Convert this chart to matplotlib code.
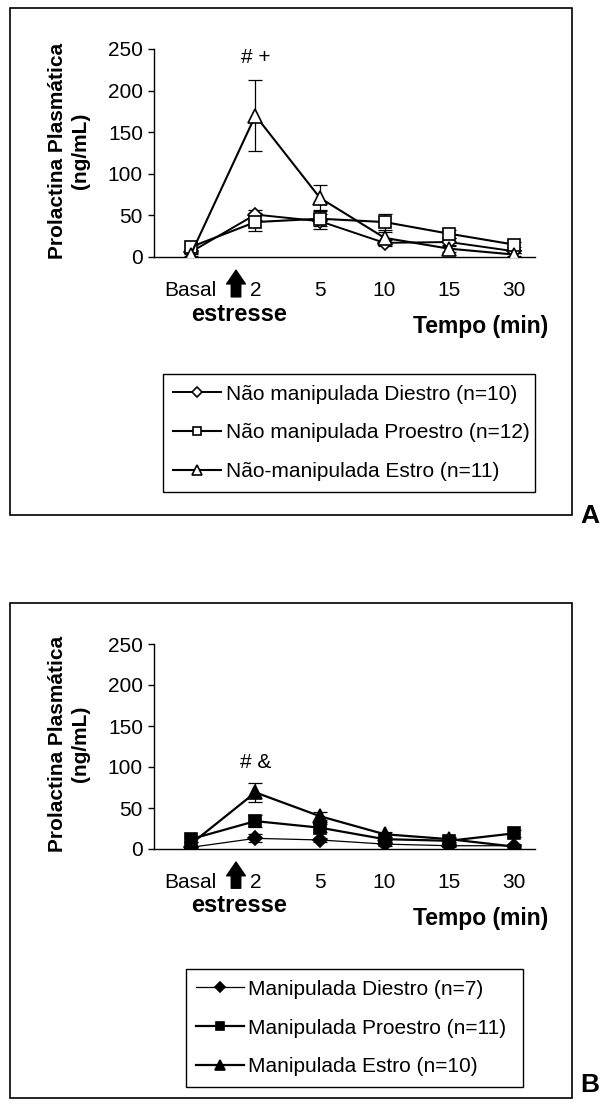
import numpy as np
import matplotlib
matplotlib.use("Agg")
import matplotlib.pyplot as plt
from matplotlib.patches import Rectangle

plt.rcParams['font.family'] = ['Liberation Sans', 'DejaVu Sans']

W, H = 600, 1106

# categorias do eixo x
tempos = ["Basal", "2", "5", "10", "15", "30"]

# painel A - não manipuladas
a_diestro = [6, 51, 43, 17, 18, 7]
a_diestro_err = [2, 6, 9, 4, 5, 2]
a_proestro = [12, 42, 46, 42, 28, 15]
a_proestro_err = [3, 11, 9, 10, 5, 3]
a_estro = [3, 170, 71, 23, 10, 3]
a_estro_err = [2, 43, 15, 7, 4, 2]

# painel B - manipuladas
b_diestro = [2, 13, 11, 6, 4, 4]
b_diestro_err = [1, 5, 3, 2, 2, 2]
b_proestro = [12, 34, 26, 12, 10, 19]
b_proestro_err = [3, 7, 5, 3, 3, 4]
b_estro = [6, 69, 40, 18, 12, 3]
b_estro_err = [2, 12, 5, 3, 3, 2]

labels_a = ["Não manipulada Diestro (n=10)",
            "Não manipulada Proestro (n=12)",
            "Não-manipulada Estro (n=11)"]
labels_b = ["Manipulada Diestro (n=7)",
            "Manipulada Proestro (n=11)",
            "Manipulada Estro (n=10)"]

fig = plt.figure(figsize=(W / 100, H / 100), dpi=100)


def box(x0, y0, x1, y1, lw=1.2):
    # retangulo em pixels (origem em cima a esquerda)
    r = Rectangle((x0 / W, 1 - y1 / H), (x1 - x0) / W, (y1 - y0) / H,
                  transform=fig.transFigure, fill=False, ec='black', lw=lw)
    fig.patches.append(r)


def panel(top, series, labels, filled, mark, leg_box, letter, letter_y):
    y250, y0 = top
    ax = fig.add_axes([154 / W, 1 - y0 / H, (535 - 154) / W, (y0 - y250) / H])
    x = np.arange(len(tempos))
    markers = ['D', 's', '^']
    msizes = [7, 8.5, 9.5]
    lws = [1.4, 1.5, 1.5] if not filled else [0.9, 1.6, 1.6]
    handles = []
    for (vals, err), m, ms, lw in zip(series, markers, msizes, lws):
        fc = 'black' if filled else 'white'
        ax.errorbar(x, vals, yerr=err, fmt='none', ecolor='black',
                    elinewidth=0.9, capsize=5, capthick=0.9, zorder=2)
        h, = ax.plot(x, vals, color='black', lw=lw, marker=m, ms=ms,
                     mfc=fc, mec='black', mew=1.2, zorder=3)
        handles.append(h)
    ax.set_xlim(-0.57, 5.33)
    ax.set_ylim(0, 250)
    ax.set_yticks([0, 50, 100, 150, 200, 250])
    ax.set_xticks(x)
    ax.set_xticklabels(tempos)
    ax.tick_params(axis='x', length=0, pad=17, labelsize=15)
    ax.tick_params(axis='y', direction='out', length=4, width=1, pad=4, labelsize=15)
    for s in ['top', 'right']:
        ax.spines[s].set_visible(False)
    ax.spines['left'].set_linewidth(1)
    ax.spines['bottom'].set_linewidth(1)
    ax.patch.set_alpha(0)

    ax.text(1, mark[1], mark[0], ha='center', va='center', fontsize=15)

    # seta do estresse
    ax.annotate('', xy=(0.70, -0.05), xytext=(0.70, -0.205),
                xycoords=ax.get_xaxis_transform(),
                textcoords=ax.get_xaxis_transform(),
                arrowprops=dict(arrowstyle='simple,head_length=0.55,head_width=0.75,tail_width=0.38',
                                fc='black', ec='black', mutation_scale=18),
                annotation_clip=False)
    fig.text(239 / W, 1 - (y0 + 57) / H, "estresse", ha='center', va='center',
             fontsize=17, fontweight='bold')
    fig.text(548 / W, 1 - (y0 + 69) / H, "Tempo (min)", ha='right', va='center',
             fontsize=16.5, fontweight='bold')
    fig.text(69 / W, 1 - (y250 + y0 - 5) / 2 / H, "Prolactina Plasmática\n(ng/mL)",
             rotation=90, ha='center', va='center', fontsize=15,
             fontweight='bold', linespacing=1.25, multialignment='center')

    lx0, ly0, lx1, ly1 = leg_box
    leg = fig.legend(handles, labels, loc='center left',
                     bbox_to_anchor=(lx0 / W, 1 - ly1 / H, (lx1 - lx0) / W, (ly1 - ly0) / H),
                     mode='expand', fontsize=15, frameon=True, fancybox=False,
                     edgecolor='black', framealpha=1, handlelength=2.3,
                     handletextpad=0.2, borderpad=0.5, labelspacing=0.95,
                     borderaxespad=0, markerscale=0.75)
    leg.get_frame().set_linewidth(1)
    fig.text(580 / W, 1 - letter_y / H, letter, ha='left', va='center',
             fontsize=19, fontweight='bold')
    return ax


box(10, 8, 572, 515)
box(10, 603, 572, 1098)

panel((49, 257),
      [(a_diestro, a_diestro_err), (a_proestro, a_proestro_err), (a_estro, a_estro_err)],
      labels_a, False, ("# +", 240), (163, 372, 535, 494), "A", 516)
panel((644, 849),
      [(b_diestro, b_diestro_err), (b_proestro, b_proestro_err), (b_estro, b_estro_err)],
      labels_b, True, ("# &", 106), (186, 969, 523, 1087), "B", 1085)

fig.savefig("out.png", dpi=100)
